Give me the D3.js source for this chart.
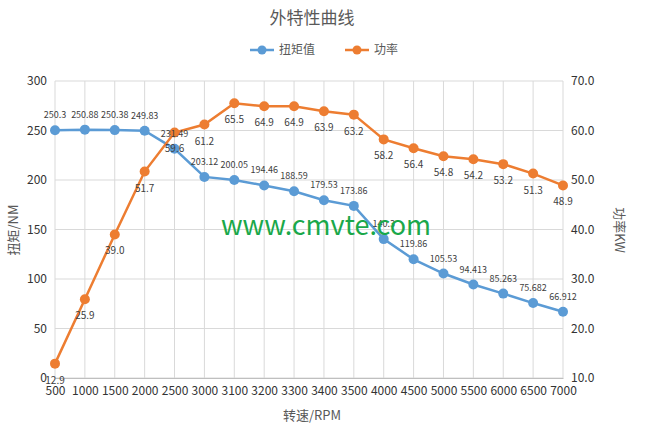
<!DOCTYPE html><html><head><meta charset="utf-8"><script src="https://d3js.org/d3.v7.min.js"></script>
<style>body{margin:0;background:#fff}text{font-family:"Noto Sans CJK SC","DejaVu Sans",sans-serif}</style></head><body><svg id="c" width="645" height="439"></svg><script>
const categories=["500","1000","1500","2000","2500","3000","3100","3200","3300","3400","3500","4000","4500","5000","5500","6000","6500","7000"];
const torque=[250.3,250.88,250.38,249.83,231.49,203.12,200.05,194.46,188.59,179.53,173.86,140.3,119.86,105.53,94.413,85.263,75.682,66.912];
const power=[12.9,25.9,39.0,51.7,59.6,61.2,65.5,64.9,64.9,63.9,63.2,58.2,56.4,54.8,54.2,53.2,51.3,48.9];
const leftTicks=[0,50,100,150,200,250,300];
const rightTicks=[10,20,30,40,50,60,70];
const svg=d3.select("#c");
const L=55,R=563,T=81,B=378;
const x=d3.scalePoint().domain(categories).range([L,R]);
const yL=d3.scaleLinear().domain([0,300]).range([B,T]);
const yR=d3.scaleLinear().domain([10,70]).range([B,T]);
const g=svg.append("g");
g.selectAll(".h").data(leftTicks).join("line").attr("x1",L).attr("x2",R).attr("y1",d=>yL(d)).attr("y2",d=>yL(d)).attr("stroke","#d9d9d9");
g.selectAll(".v").data(categories).join("line").attr("x1",d=>x(d)).attr("x2",d=>x(d)).attr("y1",T).attr("y2",B).attr("stroke","#d9d9d9");
const ax=svg.append("g").attr("transform",`translate(0,${B})`).call(d3.axisBottom(x).tickSize(0).tickPadding(8));
ax.select(".domain").attr("stroke","#bfbfbf");ax.selectAll("text").attr("font-size",12).attr("fill","#333");
const al=svg.append("g").attr("transform",`translate(${L},0)`).call(d3.axisLeft(yL).tickValues(leftTicks).tickSize(0).tickPadding(8));
al.select(".domain").remove();al.selectAll("text").attr("font-size",12).attr("fill","#333");
const ar=svg.append("g").attr("transform",`translate(${R},0)`).call(d3.axisRight(yR).tickValues(rightTicks).tickFormat(d3.format(".1f")).tickSize(0).tickPadding(8));
ar.select(".domain").remove();ar.selectAll("text").attr("font-size",12).attr("fill","#333");
const blue="#5b9bd5",orange="#ed7d31";
svg.append("path").datum(torque).attr("fill","none").attr("stroke",blue).attr("stroke-width",2.5).attr("d",d3.line().x((d,i)=>x(categories[i])).y(d=>yL(d)));
svg.append("path").datum(power).attr("fill","none").attr("stroke",orange).attr("stroke-width",2.5).attr("d",d3.line().x((d,i)=>x(categories[i])).y(d=>yR(d)));
svg.selectAll(".pt").data(torque).join("circle").attr("cx",(d,i)=>x(categories[i])).attr("cy",d=>yL(d)).attr("r",5).attr("fill",blue);
svg.selectAll(".pp").data(power).join("circle").attr("cx",(d,i)=>x(categories[i])).attr("cy",d=>yR(d)).attr("r",5).attr("fill",orange);
svg.selectAll(".lt").data(torque).join("text").attr("x",(d,i)=>x(categories[i])).attr("y",d=>yL(d)-12).attr("text-anchor","middle").attr("font-size",9).attr("fill","#404040").text(d=>d);
svg.selectAll(".lp").data(power).join("text").attr("x",(d,i)=>x(categories[i])).attr("y",d=>yR(d)+20).attr("text-anchor","middle").attr("font-size",10).attr("fill","#404040").text(d=>d.toFixed(1));
svg.append("text").attr("x",312).attr("y",24).attr("text-anchor","middle").attr("font-size",17).attr("fill","#595959").text("外特性曲线");
const lg=svg.append("g");
[[blue,"扭矩值",250],[orange,"功率",345]].forEach(([c,t,lx])=>{lg.append("line").attr("x1",lx).attr("x2",lx+24).attr("y1",50).attr("y2",50).attr("stroke",c).attr("stroke-width",2.5);lg.append("circle").attr("cx",lx+12).attr("cy",50).attr("r",4.5).attr("fill",c);lg.append("text").attr("x",lx+29).attr("y",54).attr("font-size",12).attr("fill","#595959").text(t);});
svg.append("text").attr("x",312).attr("y",420).attr("text-anchor","middle").attr("font-size",13).attr("fill","#595959").text("转速/RPM");
svg.append("text").attr("transform","translate(18,230) rotate(-90)").attr("text-anchor","middle").attr("font-size",13).attr("fill","#595959").text("扭矩/NM");
svg.append("text").attr("transform","translate(615,230) rotate(90)").attr("text-anchor","middle").attr("font-size",13).attr("fill","#595959").text("功率KW");
svg.append("text").attr("x",326).attr("y",235).attr("text-anchor","middle").attr("font-size",27).attr("font-family","Arial,Liberation Sans,sans-serif").attr("fill","#1aa84a").text("www.cmvte.com");
</script></body></html>
